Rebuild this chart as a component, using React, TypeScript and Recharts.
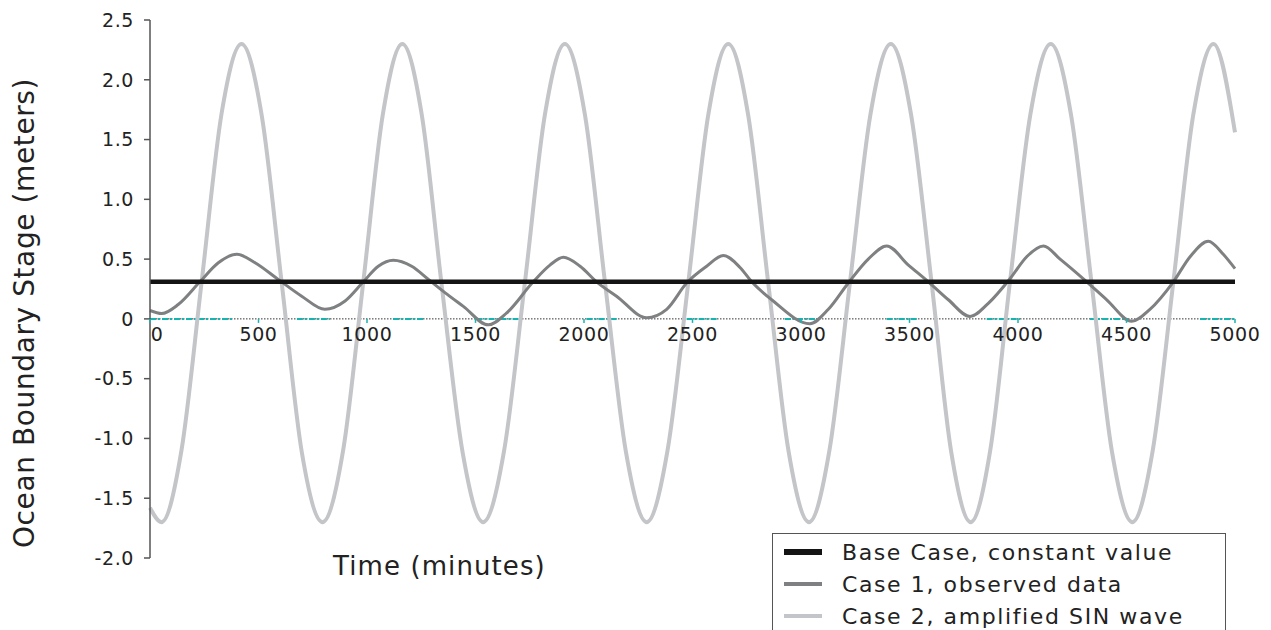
import React from "react"
import { Line, LineChart, ReferenceLine, XAxis, YAxis } from "recharts"

const timeTicks = [0, 500, 1000, 1500, 2000, 2500, 3000, 3500, 4000, 4500, 5000]
const stageTicks = [-2, -1.5, -1, -0.5, 0, 0.5, 1, 1.5, 2, 2.5]

const baseTime = [0, 5000]
const baseStage = [0.31, 0.31]

const case1Time = [
  0, 54, 130, 230, 315, 400, 484, 591, 699, 806, 899, 983, 1052, 1121, 1206, 1283, 1359, 1444,
  1559, 1644, 1766, 1843, 1905, 1982, 2058, 2150, 2289, 2381, 2473, 2565, 2642, 2719, 2773, 2865,
  3041, 3126, 3218, 3310, 3395, 3495, 3587, 3679, 3779, 3863, 3965, 4040, 4117, 4194, 4317, 4409,
  4524, 4608, 4716, 4793, 4877, 4946, 5000,
]
const case1Stage = [
  0.07, 0.045, 0.12, 0.31, 0.47, 0.54, 0.47, 0.33, 0.19, 0.08, 0.15, 0.31, 0.44, 0.49, 0.44, 0.33,
  0.22, 0.105, -0.05, 0.05, 0.31, 0.45, 0.515, 0.44, 0.31, 0.19, 0.01, 0.08, 0.3, 0.44, 0.53, 0.43,
  0.31, 0.16, -0.04, 0.08, 0.3, 0.5, 0.61, 0.45, 0.31, 0.16, 0.02, 0.13, 0.34, 0.52, 0.61, 0.5,
  0.31, 0.16, -0.02, 0.08, 0.31, 0.52, 0.65, 0.54, 0.42,
]

const case2Time = [
  0, 53, 145, 238, 330, 422, 515, 607, 700, 795, 890, 983, 1073, 1163, 1253, 1343, 1440, 1535,
  1632, 1728, 1820, 1912, 2005, 2097, 2193, 2289, 2385, 2481, 2573, 2665, 2757, 2849, 2943, 3037,
  3131, 3226, 3320, 3414, 3508, 3602, 3692, 3782, 3872, 3963, 4057, 4151, 4245, 4339, 4433, 4527,
  4621, 4716, 4808, 4901, 5000,
]
const case2Stage = [
  -1.58, -1.7, -1.1, 0.31, 1.72, 2.3, 1.7, 0.3, -1.12, -1.7, -1.1, 0.31, 1.71, 2.3, 1.7, 0.3,
  -1.11, -1.7, -1.1, 0.31, 1.71, 2.3, 1.7, 0.3, -1.11, -1.7, -1.1, 0.31, 1.71, 2.3, 1.7, 0.3,
  -1.11, -1.7, -1.1, 0.31, 1.71, 2.3, 1.7, 0.3, -1.11, -1.7, -1.1, 0.31, 1.71, 2.3, 1.7, 0.3,
  -1.11, -1.7, -1.1, 0.31, 1.71, 2.3, 1.56,
]

// teal dash-dot pieces that show through on the zero line
const zeroDashSpans = [
  [0, 383], [677, 829], [1120, 1267], [1505, 1705], [2012, 2158], [2473, 2611],
  [2926, 3065], [3395, 3533], [3856, 4009], [4332, 4509], [4839, 5000],
]

const legendItems = [
  { label: "Base Case, constant value", color: "#141414", thickness: 6 },
  { label: "Case 1, observed data", color: "#7f8082", thickness: 3.5 },
  { label: "Case 2, amplified SIN wave", color: "#c4c5c8", thickness: 3.5 },
]

const toPoints = (times: number[], values: number[]) =>
  times.map((t, i) => ({ time: t, stage: values[i] }))

const baseData = toPoints(baseTime, baseStage)
const case1Data = toPoints(case1Time, case1Stage)
const case2Data = toPoints(case2Time, case2Stage)

const FONT = "'DejaVu Sans', sans-serif"
const WIDTH = 1271
const HEIGHT = 630
const MARGIN = { top: 20, right: 36, bottom: 70, left: 80 }
const X_AXIS_HEIGHT = 2
const Y_MIN = -2
const Y_MAX = 2.5
const plotHeight = HEIGHT - MARGIN.top - MARGIN.bottom - X_AXIS_HEIGHT
const zeroY = MARGIN.top + (plotHeight * Y_MAX) / (Y_MAX - Y_MIN)

function ZeroAxisTick(props: any) {
  const { x, payload } = props
  const value = payload.value as number
  const labelX = value === 0 ? x + 7 : x
  return (
    <g>
      <line x1={x} y1={zeroY} x2={x} y2={zeroY + 4} stroke="#14b4b0" strokeWidth={1.5} />
      <text
        x={labelX}
        y={zeroY + 22}
        textAnchor="middle"
        fontFamily={FONT}
        fontSize={19}
        letterSpacing={0.6}
        fill="#222"
      >
        {value}
      </text>
    </g>
  )
}

function formatStage(value: number) {
  return value === 0 ? "0" : value.toFixed(1)
}

export default function App() {
  return (
    <div
      style={{
        position: "absolute",
        left: 0,
        top: 0,
        width: WIDTH,
        height: HEIGHT,
        overflow: "hidden",
        background: "#fff",
        fontFamily: FONT,
      }}
    >
      <LineChart width={WIDTH} height={HEIGHT} margin={MARGIN}>
        <XAxis
          type="number"
          dataKey="time"
          domain={[0, 5000]}
          ticks={timeTicks}
          height={X_AXIS_HEIGHT}
          axisLine={false}
          tickLine={false}
          tick={(p: any) => <ZeroAxisTick {...p} />}
          interval={0}
        />
        <YAxis
          type="number"
          dataKey="stage"
          domain={[Y_MIN, Y_MAX]}
          ticks={stageTicks}
          width={70}
          interval={0}
          tickFormatter={formatStage}
          axisLine={{ stroke: "#555", strokeWidth: 1.5 }}
          tickLine={{ stroke: "#555", strokeWidth: 1.5 }}
          tickSize={6}
          tickMargin={10}
          tick={{ fontFamily: FONT, fontSize: 19, fill: "#222", letterSpacing: 0.6 }}
        />
        <ReferenceLine y={0} stroke="#333" strokeWidth={1} strokeDasharray="1.5 1.5" />
        {zeroDashSpans.map(([a, b]) => (
          <ReferenceLine
            key={a}
            segment={[
              { x: a, y: 0 },
              { x: b, y: 0 },
            ]}
            stroke="#14b4b0"
            strokeWidth={2}
            strokeDasharray="6 2 2 2"
          />
        ))}
        <Line
          data={case2Data}
          dataKey="stage"
          type="monotone"
          stroke="#c4c5c8"
          strokeWidth={4}
          dot={false}
          isAnimationActive={false}
        />
        <Line
          data={case1Data}
          dataKey="stage"
          type="monotone"
          stroke="#7f8082"
          strokeWidth={3}
          dot={false}
          isAnimationActive={false}
        />
        <Line
          data={baseData}
          dataKey="stage"
          type="linear"
          stroke="#141414"
          strokeWidth={4.5}
          dot={false}
          isAnimationActive={false}
        />
      </LineChart>

      <div
        style={{
          position: "absolute",
          left: 24,
          top: 313,
          transform: "translate(-50%, -50%) rotate(-90deg)",
          whiteSpace: "nowrap",
          fontSize: 28,
          letterSpacing: 0.6,
          color: "#222",
        }}
      >
        Ocean Boundary Stage (meters)
      </div>

      <div
        style={{
          position: "absolute",
          left: 333,
          top: 551,
          whiteSpace: "nowrap",
          fontSize: 26,
          letterSpacing: 1.1,
          color: "#222",
        }}
      >
        Time (minutes)
      </div>

      <div
        style={{
          position: "absolute",
          left: 772,
          top: 533,
          width: 454,
          height: 120,
          border: "1px solid #555",
          boxSizing: "border-box",
          background: "#fff",
          paddingTop: 2,
        }}
      >
        {legendItems.map((item) => (
          <div
            key={item.label}
            style={{ display: "flex", alignItems: "center", height: 32, whiteSpace: "nowrap" }}
          >
            <span
              style={{
                display: "inline-block",
                width: 38,
                height: item.thickness,
                background: item.color,
                marginLeft: 11,
                marginRight: 20,
              }}
            />
            <span style={{ fontSize: 22, letterSpacing: 1.6, color: "#222" }}>{item.label}</span>
          </div>
        ))}
      </div>
    </div>
  )
}
